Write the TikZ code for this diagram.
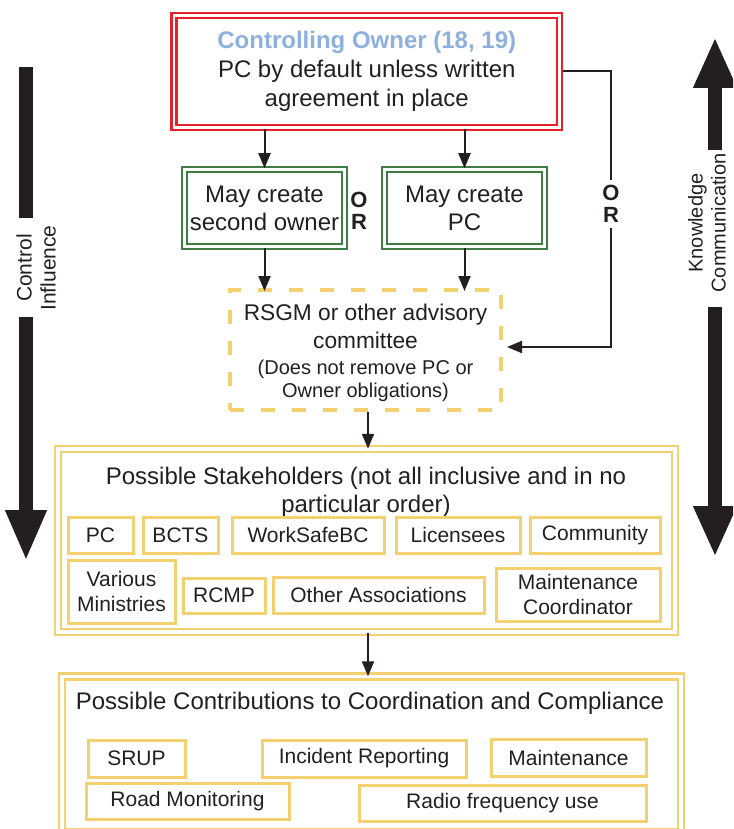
\documentclass[tikz,border=0pt]{standalone}
\usepackage{fontspec}
\setmainfont{Liberation Sans}
\usetikzlibrary{arrows.meta}
\definecolor{redc}{RGB}{230,33,42}
\definecolor{greenc}{RGB}{62,125,70}
\definecolor{yelc}{RGB}{244,209,112}
\definecolor{bluec}{RGB}{141,176,222}
\definecolor{txt}{RGB}{35,31,32}
\begin{document}
\begin{tikzpicture}[x=1pt,y=-1pt,
  ownerbox/.style={draw=redc, double, double distance=2.5pt, line width=2.5pt, align=center, text=txt, font=\fontsize{24}{29}\selectfont, inner sep=0pt},
  greenbox/.style={draw=greenc, double, double distance=2.5pt, line width=2.5pt, align=center, text=txt, font=\fontsize{24}{28}\selectfont, inner sep=0pt, minimum width=160pt, minimum height=77pt},
  yelbig/.style={draw=yelc, double, double distance=3.5pt, line width=2.5pt, inner sep=0pt},
  ybox/.style={draw=yelc, line width=3pt, align=center, text=txt, font=\fontsize{21}{25}\selectfont, inner sep=0pt},
  dashbox/.style={draw=yelc, line width=4pt, dash pattern=on 14pt off 17pt, align=center, text=txt, inner sep=0pt, font=\fontsize{22.7}{27.5}\selectfont},
  titletext/.style={align=center, text=txt, font=\fontsize{24}{28}\selectfont, inner sep=0pt},
  ortext/.style={align=center, text=txt, font=\bfseries\fontsize{22}{22}\selectfont, inner sep=5pt},
  sidetext/.style={align=center, text=txt, rotate=90, inner sep=0pt},
  conn/.style={draw=txt, line width=2pt, -{Triangle[length=15pt,width=12pt]}},
  plainconn/.style={draw=txt, line width=2pt},
  bigshaft/.style={draw=txt, line width=14pt}
]
\useasboundingbox (0,0) rectangle (733,829);
\clip (0,0) rectangle (733,829);

% top owner box
\node[ownerbox, minimum width=385.5pt, minimum height=112pt] (owner) at (366.75,71.5)
  {\textcolor{bluec}{\bfseries Controlling Owner (18, 19)}\\PC by default unless written\\agreement in place};

% green boxes
\node[greenbox] (g1) at (264.5,208) {May create\\second owner};
\node[greenbox] (g2) at (464.5,208) {May create\\PC};
\node[ortext] (or1) at (359,211) {O\\R};

% RSGM dashed box
\node[dashbox, minimum width=271pt, minimum height=120pt] (rsgm) at (365.5,350)
  {\rule{0pt}{22.5pt}RSGM or other advisory\\committee\\[-1pt]{\fontsize{20}{23}\selectfont (Does not remove PC or}\\[-5pt]{\fontsize{20}{23}\selectfont Owner obligations)}};

% right OR connector
\node[ortext, fill=white] (or2) at (611,204) {O\\R};
\draw[plainconn] ([xshift=2pt]owner.east) -| (or2.north);
\draw[conn] (or2.south) |- ([xshift=4pt,yshift=3pt]rsgm.east);

% arrows down
\draw[conn] (owner.south -| g1.north) -- (g1.north);
\draw[conn] (owner.south -| g2.north) -- (g2.north);
\draw[conn] (g1.south) -- ([yshift=-3pt]g1.south |- rsgm.north);
\draw[conn] (g2.south) -- ([yshift=-3pt]g2.south |- rsgm.north);

% stakeholders
\node[yelbig, minimum width=617pt, minimum height=183pt] (stake) at (366.5,540.5) {};
\node[titletext] (stitle) at (366,492) {Possible Stakeholders (not all inclusive and in no\\particular order)};
\draw[conn] ([xshift=2.5pt]rsgm.south) -- ([xshift=2.5pt,yshift=-1pt]rsgm.south |- stake.north);

\node[ybox, minimum width=65pt, minimum height=36pt] (pc) at (100.5,535) {PC};
\node[ybox, minimum width=75pt, minimum height=36pt] (bcts) at (180.5,535) {BCTS};
\node[ybox, minimum width=152pt, minimum height=36pt] (wsbc) at (308,535) {WorkSafeBC};
\node[ybox, minimum width=124pt, minimum height=36pt] (lic) at (458,535) {Licensees};
\node[ybox, minimum width=130pt, minimum height=36pt] (comm) at (595,535) {Community};
\node[ybox, minimum width=107pt, minimum height=63pt] (vm) at (121.5,591.5) {Various\\Ministries};
\node[ybox, minimum width=82pt, minimum height=35pt] (rcmp) at (224,595.5) {RCMP};
\node[ybox, minimum width=211pt, minimum height=36pt] (oa) at (378.5,595) {Other Associations};
\node[ybox, minimum width=164pt, minimum height=53pt] (mc) at (578,594.5) {Maintenance\\Coordinator};

% contributions
\node[yelbig, minimum width=619pt, minimum height=155.5pt] (contrib) at (371.5,754.25) {};
\node[titletext] (ctitle) at (370,703) {Possible Contributions to Coordination and Compliance};
\draw[conn] (stake.south -| stitle.south) ++(2pt,0) coordinate (s0) (s0) -- ([xshift=2pt,yshift=-1pt]stitle.south |- contrib.north);

\node[ybox, minimum width=97pt, minimum height=37pt] (srup) at (136.5,758.5) {SRUP};
\node[ybox, minimum width=204pt, minimum height=37pt] (inc) at (364,758.5) {Incident Reporting};
\node[ybox, minimum width=155pt, minimum height=37pt] (maint) at (568.5,757.5) {Maintenance};
\node[ybox, minimum width=203pt, minimum height=36pt] (road) at (187.5,801) {Road Monitoring};
\node[ybox, minimum width=287pt, minimum height=36pt] (radio) at (502.5,803) {Radio frequency use};

% left big arrow
\coordinate (ctop) at (26,67);
\coordinate (cmid1) at (26,218);
\node[sidetext, font=\fontsize{21}{24}\selectfont] (ctl) at (36,268) {Control\\Influence};
\coordinate (cmid2) at (26,317);
\coordinate (cbot) at (26,561);
\draw[bigshaft] (ctop) -- (cmid1);
\draw[bigshaft, -{Triangle[length=51pt,width=38pt]}] (cmid2) -- (cbot);

% right big arrow
\coordinate (ktop) at (715,37);
\coordinate (kmid1) at (715,150);
\node[sidetext, font=\fontsize{20}{23}\selectfont] (kn) at (707,223) {Knowledge\\Communication};
\coordinate (kmid2) at (715,307);
\coordinate (kbot) at (715,557);
\draw[bigshaft, -{Triangle[length=51pt,width=40pt]}] (kmid1) -- (ktop);
\draw[bigshaft, -{Triangle[length=51pt,width=40pt]}] (kmid2) -- (kbot);
\end{tikzpicture}
\end{document}
